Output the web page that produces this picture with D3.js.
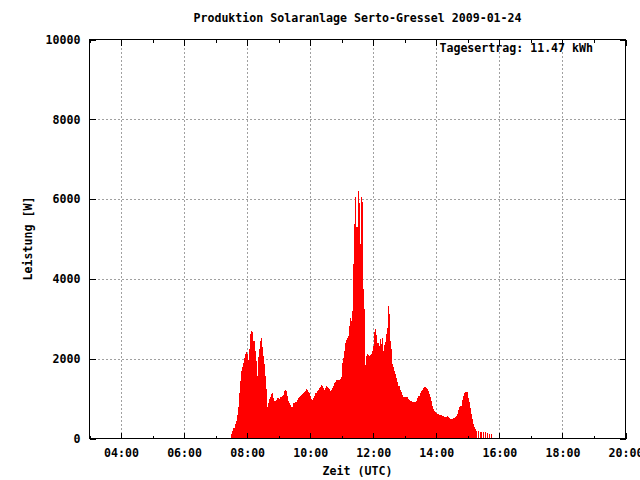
<!DOCTYPE html>
<html><head><meta charset="utf-8">
<script src="https://cdn.jsdelivr.net/npm/d3@7"></script>
<style>body{margin:0;background:#fff}svg{display:block}</style>
</head><body>
<svg id="c" width="640" height="480"></svg>
<script>
const title = "Produktion Solaranlage Serto-Gressel 2009-01-24";
const xLabel = "Zeit (UTC)";
const yLabel = "Leistung [W]";
const dailyYield = "Tagesertrag: 11.47 kWh";
const xTickHours = [4, 6, 8, 10, 12, 14, 16, 18, 20];
const xMinorHours = [3, 5, 7, 9, 11, 13, 15, 17, 19];
const yTicks = [0, 2000, 4000, 6000, 8000, 10000];
const startTime = "07:30";
const intervalMinutes = 2;
// Power readings [W], one every 2 minutes from 07:30 (0 = no reading)
const power = [
125,180,275,375,430,600,790,1150,1450,1700,1800,1900,2025,2125,2160,2125,1975,2250,2625,2700,
2660,2450,2200,1950,1575,2050,2250,2450,2525,2300,2075,1875,1575,1250,800,880,1000,1030,1125,1130,
1025,950,970,1020,1010,1000,1040,1050,1075,1100,1200,1210,1180,1075,930,900,850,800,780,880,
900,925,975,1020,1040,1075,1100,1125,1140,1175,1200,1240,1225,1175,1140,1075,1000,975,1025,1075,
1130,1190,1225,1275,1300,1340,1310,1275,1225,1275,1325,1300,1270,1240,1200,1225,1270,1325,1380,1425,
1470,1470,1470,1500,1550,1900,2025,2200,2390,2470,2520,2575,2825,3030,2950,3200,4375,5375,6050,5300,
6200,5910,4880,6050,5930,3750,3250,1850,2075,2125,2100,2075,2100,2125,2200,2325,2675,2740,2590,2400,
2325,2490,2370,2520,2200,2340,2410,2620,2780,3310,3120,2450,2240,1870,1780,1700,1610,1510,1425,1325,
1225,1160,1100,1050,1050,1050,1040,1030,1000,970,950,950,925,910,910,910,950,1020,1075,1130,
1180,1220,1260,1280,1290,1260,1240,1180,1120,1030,950,825,740,700,660,630,620,610,600,590,
575,560,550,540,530,560,550,525,490,490,500,520,525,530,570,625,725,790,825,975,
1075,1150,1175,1175,1175,1020,910,770,620,490,370,280,240,200,
0,200,0,175,0,175,0,175,0,150,0,125,0,110
];

const svg = d3.select("#c");
const L = 89.5, R = 625.5, T = 39.5, B = 438.5;
const FONT = "'DejaVu Sans Mono', 'Liberation Mono', monospace";
const FS = "11.6px";

const [sh, sm] = startTime.split(":").map(Number);
const startMin = sh * 60 + sm;
const x = d3.scaleLinear().domain([180, 1200]).range([L, R]);
const y = d3.scaleLinear().domain([0, 10000]).range([B, T]);

// grid
const grid = svg.append("g").attr("stroke", "#a0a0a0").attr("stroke-width", 1)
  .attr("stroke-dasharray", "2,2").attr("shape-rendering", "crispEdges");
grid.selectAll("line.v").data(xTickHours.filter(h => h > 3 && h < 20)).join("line")
  .attr("x1", d => Math.round(x(d * 60)) + 0.5).attr("x2", d => Math.round(x(d * 60)) + 0.5)
  .attr("y1", T).attr("y2", B);
grid.selectAll("line.h").data(yTicks.filter(v => v > 0 && v < 10000)).join("line")
  .attr("y1", d => Math.round(y(d)) + 0.5).attr("y2", d => Math.round(y(d)) + 0.5)
  .attr("x1", L).attr("x2", R);

// bars (impulses)
const pts = power.map((v, i) => ({ t: startMin + i * intervalMinutes, v }));
svg.append("g").attr("fill", "#ff0000").attr("shape-rendering", "crispEdges")
  .selectAll("rect").data(pts.filter(d => d.v > 0)).join("rect")
  .attr("x", d => x(d.t))
  .attr("width", d => x(d.t + intervalMinutes) - x(d.t))
  .attr("y", d => y(d.v))
  .attr("height", d => y(0) - y(d.v));

// ticks
const ticks = svg.append("g").attr("stroke", "#000").attr("stroke-width", 1).attr("shape-rendering", "crispEdges");
const xt = xTickHours.map(h => ({ h, len: 6 })).concat(xMinorHours.map(h => ({ h, len: 3 })));
xt.forEach(d => {
  const px = Math.round(x(d.h * 60)) + 0.5;
  ticks.append("line").attr("x1", px).attr("x2", px).attr("y1", B).attr("y2", B - d.len);
  ticks.append("line").attr("x1", px).attr("x2", px).attr("y1", T).attr("y2", T + d.len);
});
yTicks.forEach(v => {
  const py = Math.round(y(v)) + 0.5;
  ticks.append("line").attr("x1", L).attr("x2", L + 6).attr("y1", py).attr("y2", py);
  ticks.append("line").attr("x1", R).attr("x2", R - 6).attr("y1", py).attr("y2", py);
});

// border
svg.append("rect").attr("x", L).attr("y", T).attr("width", R - L).attr("height", B - T)
  .attr("fill", "none").attr("stroke", "#000").attr("stroke-width", 1).attr("shape-rendering", "crispEdges");

// axes labels via d3 axes
const fmt = m => String(Math.floor(m / 60)).padStart(2, "0") + ":00";
const gx = svg.append("g").attr("transform", `translate(0,${B})`)
  .call(d3.axisBottom(x).tickValues(xTickHours.map(h => h * 60)).tickFormat(fmt).tickSize(0).tickPadding(10));
gx.select(".domain").remove();
gx.selectAll("text").attr("font-family", FONT).attr("font-size", FS).attr("font-weight", "bold").attr("fill", "#000");

const gy = svg.append("g").attr("transform", `translate(${L},0)`)
  .call(d3.axisLeft(y).tickValues(yTicks).tickFormat(d3.format("d")).tickSize(0).tickPadding(9));
gy.select(".domain").remove();
gy.selectAll("text").attr("font-family", FONT).attr("font-size", FS).attr("font-weight", "bold").attr("fill", "#000");

const txt = (s, xx, yy, anchor, rot) => {
  const t = svg.append("text").text(s).attr("font-family", FONT).attr("font-size", FS)
    .attr("font-weight", "bold").attr("fill", "#000").attr("text-anchor", anchor);
  if (rot) t.attr("transform", `translate(${xx},${yy}) rotate(-90)`);
  else t.attr("x", xx).attr("y", yy);
  return t;
};
txt(title, 357.5, 22, "middle");
txt(xLabel, 357.5, 475, "middle");
txt(yLabel, 32, 238.5, "middle", true);
txt(dailyYield, 593, 52, "end");
</script>
</body></html>
